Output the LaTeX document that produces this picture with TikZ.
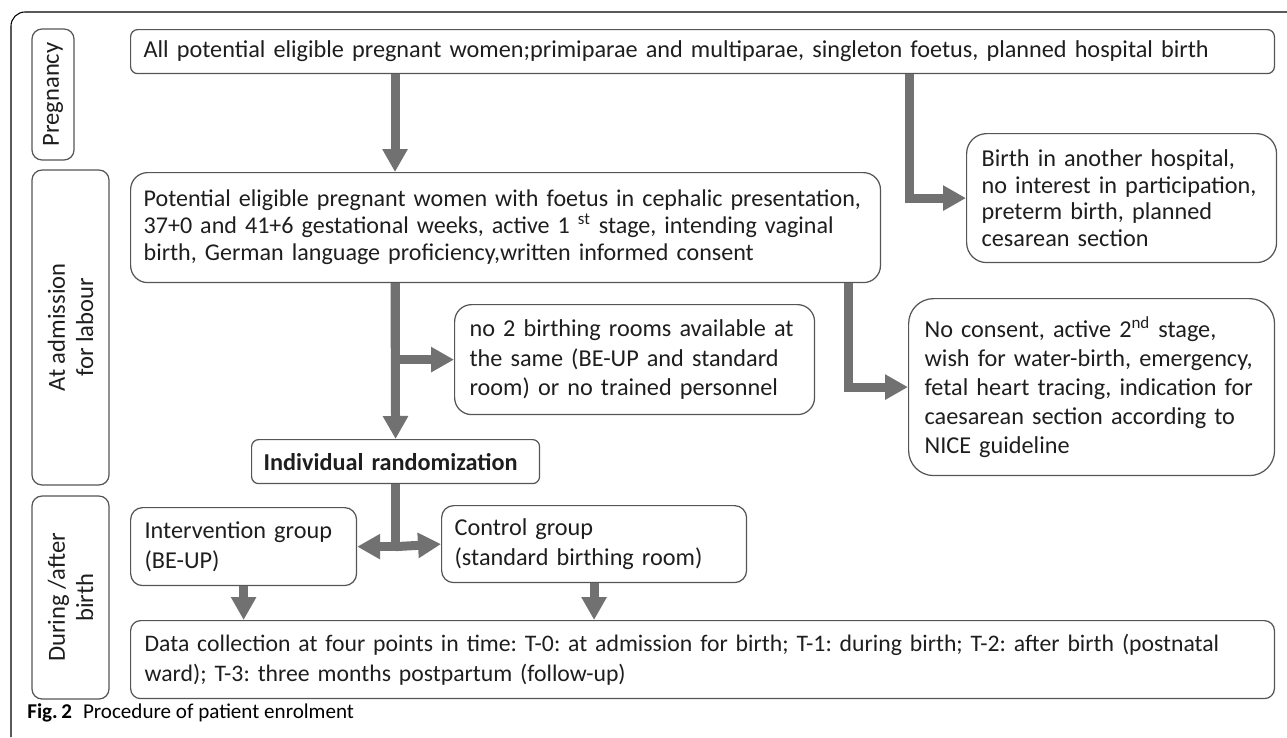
\documentclass[tikz,border=0pt]{standalone}
\usepackage{fontspec}
\setmainfont{Carlito}
\usetikzlibrary{arrows.meta}
\definecolor{boxline}{HTML}{555555}
\definecolor{arrowgray}{HTML}{717171}
\definecolor{inkgray}{HTML}{1E1E1E}
\newcommand{\boxfont}{\fontsize{13.8}{17}\selectfont\frenchspacing\lineskiplimit=-20pt}

\begin{document}
\begin{tikzpicture}[x=0.02cm, y=-0.02cm,
    panel/.style={draw=boxline, line width=0.7pt, align=left, anchor=north west, inner ysep=0pt, text=inkgray, font=\boxfont},
    phase/.style={draw=boxline, line width=0.7pt, rounded corners=0.2cm, rotate=90, align=center, inner sep=0pt, text=inkgray, font=\fontsize{14}{16}\selectfont},
    flow/.style={draw=arrowgray, line width=0.18cm, -{Triangle[length=0.46cm, width=0.48cm]}},
    bar/.style={draw=arrowgray, line width=0.18cm}]
    \useasboundingbox (0,0) rectangle (1287,737);
    % figure frame
    \draw[line width=0.6pt, rounded corners=0.28cm] (11,737) -- (11,12) -- (1287,12);

    % phases
    \node[phase, minimum width=2.62cm, minimum height=0.84cm] (pregnancy) at (53,94.5) {Pregnancy};
    \node[phase, minimum width=6.3cm, minimum height=1.54cm] (admission) at (70.5,327.5) {At admission\\for labour};
    \node[phase, minimum width=4.06cm, minimum height=1.54cm] (during) at (70.5,597.5) {During /after\\birth};

    % enrolment flow
    \node[panel, rounded corners=0.14cm, text width=22.36cm, inner xsep=0.26cm, minimum height=0.88cm] (all) at (130,29) {All potential eligible pregnant women;primiparae and multiparae, singleton foetus, planned hospital birth};
    \node[panel, rounded corners=0.34cm, text width=14.48cm, inner xsep=0.26cm, minimum height=2.2cm, font=\boxfont\fontsize{13.7}{15.4}\selectfont] (eligible) at (130,172) {Potential eligible pregnant women with foetus in cephalic presentation,\\37+0 and 41+6 gestational weeks, active 1 \textsuperscript{st} stage, intending vaginal\\birth, German language proficiency,written informed consent};
    \node[panel, rounded corners=0.4cm, text width=5.6cm, inner xsep=0.3cm, minimum height=2.58cm, font=\boxfont\fontsize{13.8}{15.1}\selectfont] (otherbirth) at (966,133) {Birth in another hospital,\\no interest in participation,\\preterm birth, planned\\cesarean section};
    \node[panel, rounded corners=0.34cm, text width=6.6cm, inner xsep=0.3cm, minimum height=2.2cm] (norooms) at (454,304) {no 2 birthing rooms available at\\the same (BE-UP and standard\\room) or no trained personnel};
    \node[panel, rounded corners=0.5cm, text width=6.68cm, inner xsep=0.32cm, minimum height=3.54cm, font=\boxfont\fontsize{13.8}{16.4}\selectfont] (noconsent) at (908,298) {No consent, active 2\textsuperscript{nd} stage,\\wish for water-birth, emergency,\\fetal heart tracing, indication for\\caesarean section according to\\NICE guideline};
    \node[panel, rounded corners=0.14cm, text width=5.28cm, inner xsep=0.24cm, minimum height=0.88cm] (random) at (251,439) {\textbf{Individual randomization}};
    \node[panel, rounded corners=0.24cm, text width=3.96cm, inner xsep=0.28cm, minimum height=1.56cm] (intervention) at (130,507) {Intervention group\\(BE-UP)};
    \node[panel, rounded corners=0.24cm, text width=5.58cm, inner xsep=0.26cm, minimum height=1.54cm] (control) at (441,505) {Control group\\(standard birthing room)};
    \node[panel, rounded corners=0.2cm, text width=22.32cm, inner xsep=0.28cm, minimum height=1.56cm, font=\boxfont\fontsize{13.5}{17}\selectfont] (datacoll) at (130,620) {Data collection at four points in time: T-0: at admission for birth; T-1: during birth; T-2: after birth (postnatal\\ward); T-3: three months postpartum (follow-up)};

    \coordinate (spine) at (395,0);
    \coordinate (dropA) at (909,0);
    \coordinate (dropB) at (848,0);
    \coordinate (split) at (random.south |- intervention.east);

    \draw[flow] (all.south -| spine) -- (eligible.north -| spine);
    \draw[flow] (all.south -| dropA) |- (otherbirth.west);
    \draw[flow] (eligible.south -| spine) -- (random.north);
    \draw[flow] (eligible.south -| spine) |- (norooms.west);
    \draw[flow] (eligible.south -| dropB) |- (noconsent.west);
    \draw[bar] (random.south) -- (split);
    \draw[flow] (split) -- (intervention.east);
    \draw[flow] (split) -- (control.west);
    \draw[flow] (intervention.south) -- (intervention.south |- datacoll.north);
    \draw[flow] (control.south) -- (control.south |- datacoll.north);

    \node[anchor=base west, inner sep=0pt, font=\fontsize{12}{14}\selectfont] (caption) at (27,718) {\textbf{Fig.\,2}\hspace{0.22cm}Procedure of patient enrolment};
\end{tikzpicture}
\end{document}
